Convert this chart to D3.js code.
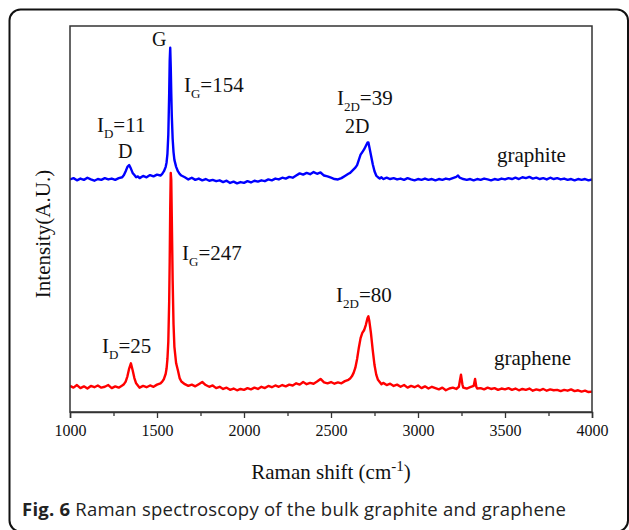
<!DOCTYPE html>
<html><head><meta charset="utf-8">
<script src="https://cdn.jsdelivr.net/npm/d3@7"></script>
<style>body{margin:0;background:#fff}svg{display:block}</style>
</head><body>
<script>
// ---- data ----
const xTicks = [1000,1500,2000,2500,3000,3500,4000];
const xMinorTicks = [1250,1750,2250,2750,3250,3750];
const graphiteOffset = 240;
// graphene (red), [wavenumber, intensity]
const graphene = [
[1000,1],[1020,-1],[1040,2],[1060,-1.5],[1080,0.5],[1100,-2],[1120,1],[1140,-0.5],[1160,1.5],[1180,-1],[1200,0],[1220,2],[1240,-1.5],[1260,0.5],[1280,-1],[1300,1.5],
[1310,3],[1320,6],[1330,12],[1340,21],[1350,27],[1360,19],[1370,10],[1380,4],[1390,1.5],
[1400,-1],[1420,1],[1440,-0.5],[1460,1.5],[1480,0],[1500,2.5],[1520,4],
[1530,6],[1540,9],[1550,15],[1555,21],[1560,32],[1565,52],[1570,98],[1573,145],[1576,205],[1579,246],[1582,238],[1585,195],[1590,122],[1595,72],[1600,46],[1610,27],[1620,19],[1630,10],[1640,6],
[1660,3],[1680,1],[1700,2.5],[1720,0.5],[1740,3],[1760,5.5],[1780,2],[1800,0],[1820,1.5],[1840,-1.5],[1860,0],[1880,-2.5],[1900,-1],[1920,-3.5],[1940,-2],[1960,-4],[1980,-2.5],[2000,-3.5],[2020,-1.5],[2040,-3],[2060,-1],[2080,-2.5],[2100,0],[2120,-1.5],[2140,1],[2160,-0.5],[2180,1.5],[2200,0],[2220,2],[2240,0.5],[2260,2.5],[2280,1.5],[2300,4],[2320,2.5],[2340,5.5],[2360,3],[2380,4.5],[2400,3.5],[2420,6],[2440,9],[2460,5],[2480,4],[2500,5.5],[2520,3.5],[2540,5],[2560,4],[2580,6.5],
[2600,8],[2610,9.5],[2620,12],[2630,16],[2640,22],[2650,32],[2660,45],[2670,56],[2680,62],[2690,65],[2700,71],[2710,79],[2715,81],[2720,76],[2730,61],[2740,42],[2750,25],[2760,14],[2770,8],[2780,5.5],[2790,3],[2800,4.5],
[2820,2],[2840,3.5],[2860,1],[2880,2.5],[2900,0],[2920,2],[2940,-1],[2960,1],[2980,-0.5],[3000,1.5],[3020,-1.5],[3040,0.5],[3060,-2],[3080,0],[3100,-1.5],[3120,-3],[3140,-1],[3160,-4],[3180,-2],[3200,-1],[3220,-2.5],[3235,0],[3240,6],[3247,14],[3255,3],[3260,-1],[3280,-2],[3300,-0.5],[3320,1],[3328,9],[3335,0],[3340,-2],[3360,-1.5],[3380,-3],[3400,-1],[3420,-2.5],[3440,-1.5],[3460,-3.5],[3480,-2],[3500,-3],[3520,-1.5],[3540,-3.5],[3560,-2],[3580,-4],[3600,-2.5],[3620,-3.5],[3640,-2],[3660,-4.5],[3680,-3],[3700,-4],[3720,-2.5],[3740,-4.5],[3760,-3],[3780,-4],[3800,-3.5],[3820,-5],[3840,-3.5],[3860,-4.5],[3880,-3],[3900,-5],[3920,-4],[3940,-5.5],[3960,-4.5],[3980,-6],[4000,-5.5]
];
// graphite (blue), [wavenumber, intensity]
const graphite = [
[1000,-1.5],[1020,0],[1040,-2.5],[1060,-0.5],[1080,-2],[1100,0.5],[1120,-1.5],[1140,-3],[1160,-1],[1180,-2],[1200,0],[1220,-1.5],[1240,-0.5],[1260,-2],[1280,0],[1300,1],
[1310,3.5],[1320,8],[1330,13],[1340,15],[1350,11],[1360,6],[1370,3.5],[1380,1],[1390,2],
[1400,0],[1420,2.5],[1440,1],[1460,3.5],[1480,2],[1500,4],[1520,3],
[1530,5],[1540,8],[1550,13],[1555,18],[1560,28],[1565,50],[1570,97],[1573,135],[1576,150],[1579,128],[1582,98],[1585,72],[1590,45],[1595,30],[1600,21],[1610,13],[1620,8],[1630,5],[1640,3],
[1660,1],[1680,-1.5],[1700,0.5],[1720,-2],[1740,-0.5],[1760,-2.5],[1780,-1],[1800,-3],[1820,-2],[1840,-3.5],[1860,-2.5],[1880,-4.5],[1900,-3],[1920,-5.5],[1940,-4],[1960,-6],[1980,-4.5],[2000,-5.5],[2020,-3.5],[2040,-5],[2060,-3],[2080,-4],[2100,-2.5],[2120,-3.5],[2140,-1.5],[2160,-2.5],[2180,-0.5],[2200,-1.5],[2220,0.5],[2240,-0.5],[2260,1.5],[2280,0.5],[2300,3],[2320,5.5],[2340,4],[2360,6],[2380,4.5],[2400,7],[2420,5],[2440,6.5],[2460,3],[2480,2],[2500,0.5],[2520,-1],[2540,-1.5],[2560,0],[2580,2.5],
[2600,5],[2610,6],[2620,8],[2630,10],[2640,12],[2650,15],[2660,21],[2670,27],[2680,30],[2690,33],[2700,37],[2710,41],[2715,41],[2720,36],[2730,26],[2740,16],[2750,8],[2760,3],[2770,1],[2780,-0.5],[2790,1],[2800,-1],
[2820,0.5],[2840,-1],[2860,0],[2880,-1.5],[2900,-0.5],[2920,-2],[2940,0],[2960,-1.5],[2980,-2.5],[3000,-1],[3020,-2],[3040,-0.5],[3060,-2],[3080,-1],[3100,-2.5],[3120,-1],[3140,-2],[3160,-0.5],[3180,-1.5],[3200,0],[3220,1.5],[3230,3],[3240,0.5],[3260,-1],[3280,-2],[3300,-1],[3320,-2.5],[3340,-1],[3360,-2],[3380,-0.5],[3400,-1.5],[3420,-2.5],[3440,-1],[3460,-2],[3480,-0.5],[3500,-1.5],[3520,0],[3540,-1],[3560,0.5],[3580,-1],[3600,1],[3620,0],[3640,1.5],[3660,-0.5],[3680,0.5],[3700,-1],[3720,0],[3740,-1.5],[3760,0.5],[3780,-1],[3800,0],[3820,-1.5],[3840,-0.5],[3860,-2],[3880,-1],[3900,-2.5],[3920,-1],[3940,-2],[3960,-1],[3980,-2.5],[4000,-1.5]
];
// annotations: [wavenumber, intensity, main, subscript, rest, size]
const annotations = [
[1471,392,"G","","",20],
[1655,339,"I","G","=154",21],
[1155,293,"I","D","=11",21],
[1276,263,"D","","",20],
[2534,324,"I","2D","=39",21],
[2580,292,"2D","","",20],
[3454,258,"graphite","","",21],
[1644,146,"I","G","=247",21],
[1184,39,"I","D","=25",21],
[2529,98,"I","2D","=80",21],
[3437,25,"graphene","","",21]
];

// ---- drawing ----
const W=629,H=530;
const svg=d3.select("body").append("svg").attr("width",W).attr("height",H);
svg.append("rect").attr("x",9.5).attr("y",9.5).attr("width",618.5).attr("height",522)
  .attr("rx",11).attr("fill","none").attr("stroke","#111").attr("stroke-width",2);

const L=70,R=592,T=26,B=412;
const x=d3.scaleLinear().domain([1000,4000]).range([L,R]);
const y=d3.scaleLinear().domain([-29,415]).range([B,T]);
const serif="'Liberation Serif','Times New Roman',serif";

const line=d3.line().x(d=>x(d[0])).y(d=>y(d[1]));
svg.append("clipPath").attr("id","c").append("rect").attr("x",L).attr("y",T).attr("width",R-L).attr("height",B-T);
svg.append("path").datum(graphene).attr("d",line).attr("fill","none").attr("stroke","#ff0000").attr("stroke-width",2.4).attr("stroke-linejoin","round").attr("clip-path","url(#c)");
svg.append("path").datum(graphite.map(d=>[d[0],d[1]+graphiteOffset])).attr("d",line).attr("fill","none").attr("stroke","#0000ff").attr("stroke-width",2.4).attr("stroke-linejoin","round").attr("clip-path","url(#c)");

// frame
svg.append("rect").attr("x",L).attr("y",T).attr("width",R-L).attr("height",B-T).attr("fill","none").attr("stroke","#333").attr("stroke-width",1.5);

// x axis
const ax=svg.append("g").attr("transform",`translate(0,${B})`)
  .call(d3.axisBottom(x).tickValues(xTicks).tickSize(6).tickPadding(7).tickFormat(d3.format("d")));
ax.select(".domain").attr("stroke","#333").attr("stroke-width",1.5);
ax.selectAll(".tick line").attr("stroke","#333").attr("stroke-width",1.3);
ax.selectAll("text").attr("font-family",serif).attr("font-size",16).attr("fill","#111");
const axm=svg.append("g").attr("transform",`translate(0,${B})`)
  .call(d3.axisBottom(x).tickValues(xMinorTicks).tickSize(4).tickFormat(""));
axm.select(".domain").remove();
axm.selectAll(".tick line").attr("stroke","#333").attr("stroke-width",1.3);

// axis titles
const xt=svg.append("text").attr("x",(L+R)/2).attr("y",479).attr("text-anchor","middle")
  .attr("font-family",serif).attr("font-size",21).attr("fill","#111");
xt.append("tspan").text("Raman shift (cm");
xt.append("tspan").attr("dy",-8).attr("font-size",15).text("-1");
xt.append("tspan").attr("dy",8).text(")");
svg.append("text").attr("transform","translate(50,234) rotate(-90)").attr("text-anchor","middle")
  .attr("font-family",serif).attr("font-size",21).attr("fill","#111").text("Intensity(A.U.)");

// annotations
annotations.forEach(a=>{
  const t=svg.append("text").attr("x",x(a[0])).attr("y",y(a[1])).attr("font-family",serif)
    .attr("font-size",a[5]).attr("fill","#111");
  t.append("tspan").text(a[2]);
  if(a[3]){
    t.append("tspan").attr("dy",6).attr("font-size",13).text(a[3]);
    t.append("tspan").attr("dy",-6).text(a[4]);
  }
});

// caption
const cap=svg.append("text").attr("x",22).attr("y",516).attr("font-family","'Open Sans',sans-serif")
  .attr("font-size",18.5).attr("fill","#222").attr("textLength",544).attr("lengthAdjust","spacing");
cap.append("tspan").attr("font-weight","bold").text("Fig. 6");
cap.append("tspan").text(" Raman spectroscopy of the bulk graphite and graphene");
</script>
</body></html>
